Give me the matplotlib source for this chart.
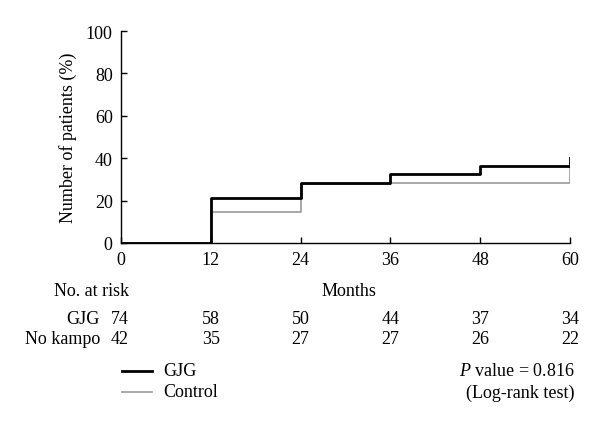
import matplotlib.pyplot as plt
import numpy as np

plt.rcParams['font.family'] = ['Liberation Serif', 'DejaVu Serif']
plt.rcParams['mathtext.fontset'] = 'custom'
plt.rcParams['mathtext.it'] = 'Liberation Serif:italic'
plt.rcParams['mathtext.rm'] = 'Liberation Serif'

# step curves (months, cumulative %)
gjg_t = [0, 12, 12, 24, 24, 36, 36, 48, 48, 60, 60]
gjg_y = [0, 0, 21, 21, 28.3, 28.3, 32.5, 32.5, 36.5, 36.5, 40]
ctl_t = [0, 12, 12, 24, 24, 36, 36, 48, 48, 60, 60]
ctl_y = [0, 0, 14.5, 14.5, 27.6, 27.6, 28.3, 28.3, 28.3, 28.3, 36.5]

xticks = [0, 12, 24, 36, 48, 60]
yticks = [0, 20, 40, 60, 80, 100]

risk_gjg = [74, 58, 50, 44, 37, 34]
risk_kampo = [42, 35, 27, 27, 26, 22]

fig = plt.figure(figsize=(6, 4.27), dpi=100)
ax = fig.add_axes([0.2017, 0.4286, 0.7483, 0.4964])

ax.plot(ctl_t, ctl_y, color='#999999', lw=1.2)
ax.plot(gjg_t, gjg_y, color='black', lw=2)

ax.set_xlim(0, 60)
ax.set_ylim(0, 100)
ax.set_xticks(xticks)
ax.set_yticks(yticks)
ax.tick_params(direction='in', length=4, width=1, labelsize=13)
ax.tick_params(axis='x', pad=6)
ax.tick_params(axis='y', pad=6)
for s in ['top', 'right']:
    ax.spines[s].set_visible(False)
for s in ['left', 'bottom']:
    ax.spines[s].set_linewidth(1)
ax.set_ylabel('Number of patients (%)', fontsize=13, labelpad=6)

W, H = 600, 427
def fx(px):
    return px / W
def fy(py):
    return 1 - py / H

fs = 13
fig.text(fx(349), fy(292), 'Months', ha='center', va='center', fontsize=fs)
fig.text(fx(129), fy(292), 'No. at risk', ha='right', va='center', fontsize=fs)
fig.text(fx(100), fy(320), 'GJG', ha='right', va='center', fontsize=fs)
fig.text(fx(100), fy(340), 'No kampo', ha='right', va='center', fontsize=fs)

# risk numbers sit under the ticks; the first column is right-aligned
for i, (a, b) in enumerate(zip(risk_gjg, risk_kampo)):
    if i == 0:
        fig.text(fx(129), fy(320), str(a), ha='right', va='center', fontsize=fs)
        fig.text(fx(129), fy(340), str(b), ha='right', va='center', fontsize=fs)
    else:
        x = fx(121 + 449 * xticks[i] / 60)
        fig.text(x, fy(320), str(a), ha='center', va='center', fontsize=fs)
        fig.text(x, fy(340), str(b), ha='center', va='center', fontsize=fs)

fig.add_artist(plt.Line2D([fx(122), fx(152)], [fy(372), fy(372)], color='black', lw=2))
fig.add_artist(plt.Line2D([fx(122), fx(152)], [fy(393), fy(393)], color='#999999', lw=1.2))
fig.text(fx(163), fy(372), 'GJG', ha='left', va='center', fontsize=fs)
fig.text(fx(163), fy(393), 'Control', ha='left', va='center', fontsize=fs)
fig.text(fx(575), fy(372), r'$P$ value = 0.816', ha='right', va='center', fontsize=fs)
fig.text(fx(575), fy(393), '(Log-rank test)', ha='right', va='center', fontsize=fs)

fig.savefig('out.png', dpi=100)
